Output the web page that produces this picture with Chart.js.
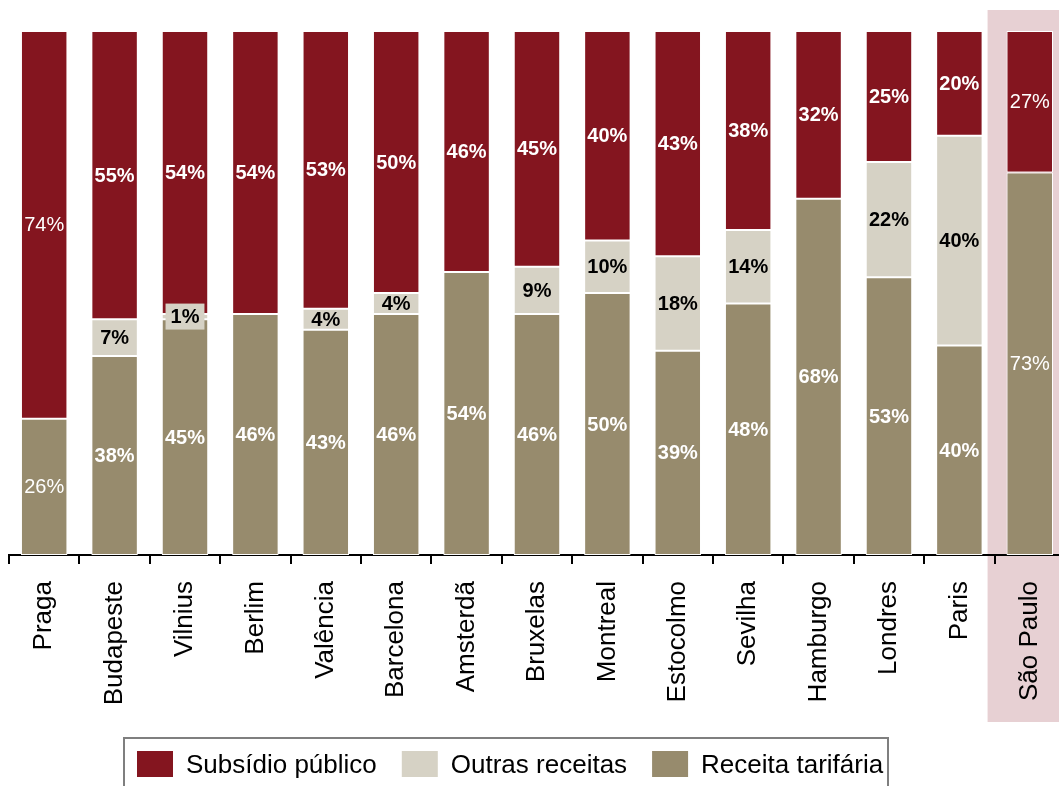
<!DOCTYPE html>
<html>
<head>
<meta charset="utf-8">
<script src="https://cdn.jsdelivr.net/npm/chart.js@4.4.1/dist/chart.umd.min.js"></script>
<style>
  html, body { margin: 0; padding: 0; background: #fff; overflow: hidden; }
  #wrap { position: relative; width: 1059px; height: 786px; overflow: hidden; }
  #c { display: block; }
</style>
</head>
<body>
<div id="wrap"><canvas id="c" width="1078" height="786"></canvas></div>
<script>
// Revenue composition of public transport systems, share of total (%)
const cities = ['Praga', 'Budapeste', 'Vilnius', 'Berlim', 'Valência', 'Barcelona', 'Amsterdã',
  'Bruxelas', 'Montreal', 'Estocolmo', 'Sevilha', 'Hamburgo', 'Londres', 'Paris', 'São Paulo'];
const receitaTarifaria = [26, 38, 45, 46, 43, 46, 54, 46, 50, 39, 48, 68, 53, 40, 73];
const outrasReceitas   = [0, 7, 1, 0, 4, 4, 0, 9, 10, 18, 14, 0, 22, 40, 0];
const subsidioPublico  = [74, 55, 54, 54, 53, 50, 46, 45, 40, 43, 38, 32, 25, 20, 27];
const seriesNames = ['Subsídio público', 'Outras receitas', 'Receita tarifária'];
const highlightedCity = 'São Paulo';
const plainLabelCities = ['Praga', 'São Paulo'];

const RED = '#84151f', LIGHT = '#d6d2c5', TAN = '#978b6d', PINK = '#e7d0d3';
const FONT = '"Liberation Sans", Arial, sans-serif';

// Pink band behind the highlighted category
const highlightBand = {
  id: 'highlightBand',
  beforeDraw(chart) {
    const xs = chart.scales.x;
    const idx = cities.indexOf(highlightedCity);
    const half = xs.width / cities.length / 2;
    const left = xs.getPixelForValue(idx) - half - 7;
    const ctx = chart.ctx;
    ctx.save();
    ctx.fillStyle = PINK;
    ctx.fillRect(left, 10, chart.width - left, 712);
    ctx.restore();
  }
};

// Percentage labels centred in each stacked segment
const segmentLabels = {
  id: 'segmentLabels',
  afterDatasetsDraw(chart) {
    const ctx = chart.ctx;
    chart.data.datasets.forEach((ds, di) => {
      const meta = chart.getDatasetMeta(di);
      meta.data.forEach((bar, i) => {
        const v = ds.data[i];
        if (!v) return;
        const plain = plainLabelCities.includes(cities[i]);
        const p = bar.getProps(['x', 'y', 'base', 'width'], true);
        const cy = (p.y + p.base) / 2;
        const segH = Math.abs(p.base - p.y);
        const txt = v + '%';
        ctx.save();
        ctx.font = (plain ? '' : 'bold ') + '20px ' + FONT;
        // thin segments get a small backing box so the label stays readable
        if (ds.labelBox && segH < 16) {
          const w = Math.min(ctx.measureText(txt).width + 10, p.width - 6), h = 26;
          ctx.fillStyle = ds.backgroundColor;
          ctx.fillRect(p.x - w / 2, cy - h / 2, w, h);
        }
        ctx.fillStyle = ds.labelColor;
        ctx.textAlign = 'center';
        ctx.textBaseline = 'middle';
        ctx.fillText(txt, p.x, cy + 1);
        ctx.restore();
      });
    });
  }
};

// Boxed legend along the bottom edge
const boxLegend = {
  id: 'boxLegend',
  afterDraw(chart) {
    const ctx = chart.ctx;
    const colors = [RED, LIGHT, TAN];
    ctx.save();
    ctx.strokeStyle = '#7f7f7f';
    ctx.lineWidth = 2;
    ctx.strokeRect(124, 738, 764, 70);
    ctx.font = '26px ' + FONT;
    ctx.textBaseline = 'alphabetic';
    let x = 137;
    seriesNames.forEach((name, i) => {
      ctx.fillStyle = colors[i];
      ctx.fillRect(x, 751, 36, 26);
      x += 36 + 13;
      ctx.fillStyle = '#000';
      ctx.fillText(name, x, 773);
      x += ctx.measureText(name).width + 25;
    });
    ctx.restore();
  }
};

new Chart(document.getElementById('c'), {
  type: 'bar',
  data: {
    labels: cities,
    datasets: [
      { label: seriesNames[2], data: receitaTarifaria, backgroundColor: TAN, labelColor: '#fff' },
      { label: seriesNames[1], data: outrasReceitas, backgroundColor: LIGHT, labelColor: '#000', labelBox: true },
      { label: seriesNames[0], data: subsidioPublico, backgroundColor: RED, labelColor: '#fff' }
    ]
  },
  options: {
    responsive: false,
    animation: false,
    layout: { padding: { left: 9, right: 1, top: 31, bottom: 0 } },
    datasets: {
      bar: {
        barPercentage: 0.66,
        categoryPercentage: 1,
        borderColor: '#fff',
        borderWidth: 1,
        borderSkipped: false
      }
    },
    plugins: {
      legend: { display: false },
      title: { display: false },
      tooltip: { enabled: false }
    },
    scales: {
      x: {
        stacked: true,
        afterFit: (scale) => { scale.height = 231; },
        border: { display: true, color: '#000', width: 2 },
        grid: {
          display: true,
          drawOnChartArea: false,
          drawTicks: true,
          tickLength: 9,
          color: '#000',
          lineWidth: 2,
          offset: true
        },
        ticks: {
          autoSkip: false,
          minRotation: 90,
          maxRotation: 90,
          padding: 17,
          color: '#000',
          font: { family: FONT, size: 26 }
        }
      },
      y: {
        stacked: true,
        display: false,
        min: 0,
        max: 100
      }
    }
  },
  plugins: [highlightBand, segmentLabels, boxLegend]
});
</script>
</body>
</html>
